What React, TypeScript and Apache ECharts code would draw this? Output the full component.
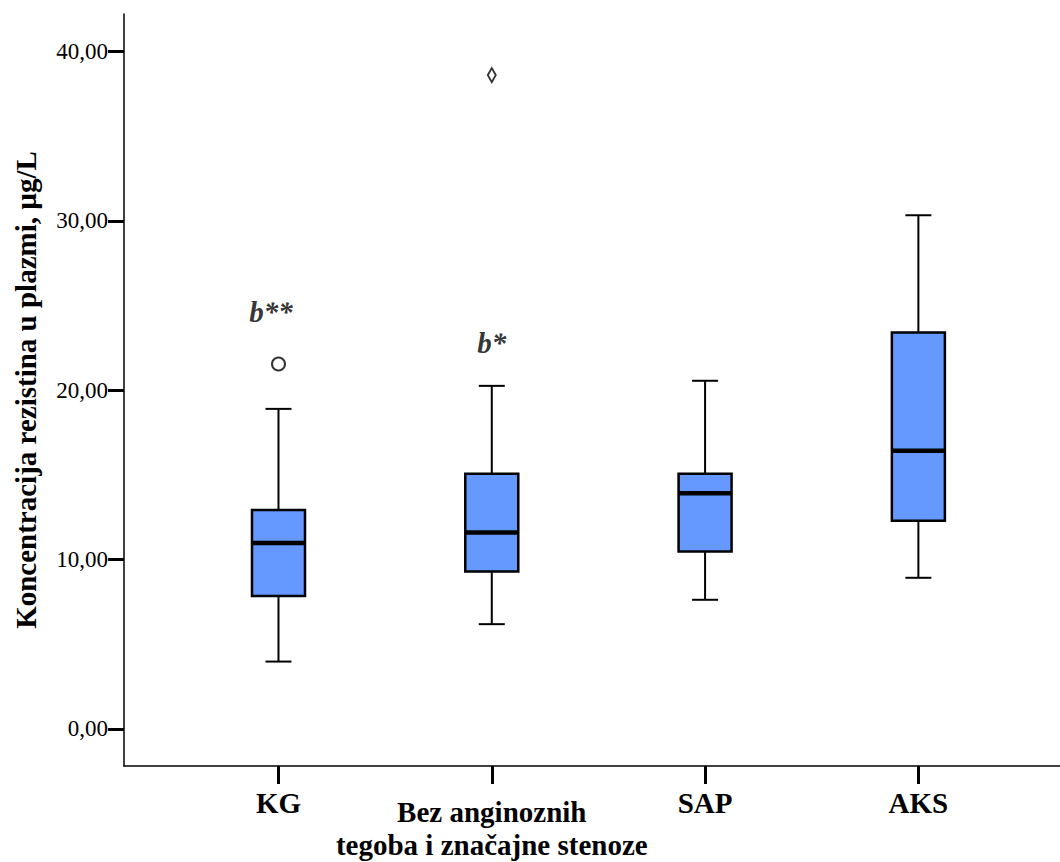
import React, { useEffect, useRef } from "react";
import * as echarts from "echarts";

const categories = ["KG", "Bez anginoznih\ntegoba i značajne stenoze", "SAP", "AKS"];
const categoryPositions = [1, 2, 3, 4];
// [min whisker, Q1, median, Q3, max whisker]
const boxMin = [3.97, 6.18, 7.62, 8.92];
const boxQ1 = [7.84, 9.29, 10.47, 12.29];
const boxMedian = [10.97, 11.6, 13.92, 16.42];
const boxQ3 = [12.92, 15.06, 15.06, 23.41];
const boxMax = [18.9, 20.26, 20.56, 30.34];
const outlierCircles: [number, number][] = [[1, 21.55]];
const extremeDiamonds: [number, number][] = [[2, 38.62]];
const annotationPos: [number, number][] = [[0.965, 24.6], [2.0, 22.8]];
const annotationText = ["b**", "b*"];
const yTicks = [0, 10, 20, 30, 40];
const yTitle = "Koncentracija rezistina u plazmi, µg/L";

const SERIF = "'Liberation Serif', 'Times New Roman', serif";
const BOX_FILL = "#6699ff";

export default function App() {
  const ref = useRef<HTMLDivElement>(null);
  useEffect(() => {
    if (!ref.current) return;
    const chart = echarts.init(ref.current, null, { renderer: "svg" });
    const boxData = categoryPositions.map((x, i) => [
      x,
      boxMin[i],
      boxQ1[i],
      boxMedian[i],
      boxQ3[i],
      boxMax[i],
    ]);
    const halfW = 26.5;
    const capHalf = 13;
    const option: any = {
      animation: false,
      backgroundColor: "#fff",
      grid: { left: 124, top: 14, right: 0, bottom: 96, containLabel: false },
      xAxis: {
        type: "value",
        min: 0.2757,
        max: 4.664,
        splitLine: { show: false },
        axisLine: { show: true, onZero: false, lineStyle: { color: "#000", width: 1.5 } },
        axisTick: {
          show: true,
          customValues: categoryPositions,
          length: 18,
          lineStyle: { color: "#000", width: 3 },
        },
        axisLabel: {
          show: true,
          customValues: categoryPositions,
          margin: 22,
          formatter: (v: number) => {
            const name = categories[Math.round(v) - 1] || "";
            if (name.indexOf("\n") >= 0) {
              const parts = name.split("\n");
              return "{p| }\n" + parts.map((s) => "{b|" + s + "}").join("\n");
            }
            return "{a|" + name + "}";
          },
          rich: {
            a: { fontFamily: SERIF, fontSize: 29, fontWeight: "bold", color: "#000", lineHeight: 29 },
            b: { fontFamily: SERIF, fontSize: 29, fontWeight: "bold", color: "#000", lineHeight: 33 },
            p: { fontSize: 4, lineHeight: 7 },
          },
        },
      },
      yAxis: {
        type: "value",
        min: -2.2,
        max: 42.23,
        splitLine: { show: false },
        name: yTitle,
        nameLocation: "middle",
        nameRotate: 90,
        nameGap: 84,
        nameTextStyle: { fontFamily: SERIF, fontSize: 29, fontWeight: "bold", color: "#000" },
        axisLine: { show: true, onZero: false, lineStyle: { color: "#000", width: 1.5 } },
        axisTick: {
          show: true,
          customValues: yTicks,
          length: 16,
          lineStyle: { color: "#000", width: 3 },
        },
        axisLabel: {
          show: true,
          customValues: yTicks,
          margin: 16,
          fontFamily: SERIF,
          fontSize: 23,
          color: "#000",
          formatter: (v: number) => v.toFixed(2).replace(".", ","),
        },
      },
      series: [
        {
          type: "custom",
          data: boxData,
          encode: { x: 0, y: [1, 2, 3, 4, 5] },
          renderItem: (params: any, api: any) => {
            const x = api.value(0);
            const pMin = api.coord([x, api.value(1)]);
            const pQ1 = api.coord([x, api.value(2)]);
            const pMed = api.coord([x, api.value(3)]);
            const pQ3 = api.coord([x, api.value(4)]);
            const pMax = api.coord([x, api.value(5)]);
            const cx = pMed[0];
            const wStyle = { stroke: "#000", lineWidth: 2 };
            return {
              type: "group",
              children: [
                { type: "line", shape: { x1: cx, y1: pQ3[1], x2: cx, y2: pMax[1] }, style: wStyle },
                { type: "line", shape: { x1: cx, y1: pQ1[1], x2: cx, y2: pMin[1] }, style: wStyle },
                { type: "line", shape: { x1: cx - capHalf, y1: pMax[1], x2: cx + capHalf, y2: pMax[1] }, style: wStyle },
                { type: "line", shape: { x1: cx - capHalf, y1: pMin[1], x2: cx + capHalf, y2: pMin[1] }, style: wStyle },
                {
                  type: "rect",
                  shape: { x: cx - halfW, y: pQ3[1], width: halfW * 2, height: pQ1[1] - pQ3[1] },
                  style: { fill: BOX_FILL, stroke: "#000", lineWidth: 2.5 },
                },
                {
                  type: "line",
                  shape: { x1: cx - halfW, y1: pMed[1], x2: cx + halfW, y2: pMed[1] },
                  style: { stroke: "#000", lineWidth: 4.5 },
                },
              ],
            };
          },
        },
        {
          type: "scatter",
          data: outlierCircles,
          symbol: "circle",
          symbolSize: 13,
          itemStyle: { color: "#fff", borderColor: "#000", borderWidth: 2 },
        },
        {
          type: "scatter",
          data: extremeDiamonds,
          symbol: "diamond",
          symbolSize: [8, 14],
          itemStyle: { color: "#fff", borderColor: "#000", borderWidth: 2 },
        },
        {
          type: "scatter",
          data: annotationPos.map((p, i) => ({ value: p, name: annotationText[i] })),
          symbolSize: 0,
          itemStyle: { color: "transparent" },
          label: {
            show: true,
            position: "inside",
            formatter: (p: any) => p.name,
            fontFamily: SERIF,
            fontSize: 29,
            fontWeight: "bold",
            fontStyle: "italic",
            color: "#000",
            textBorderWidth: 0,
          },
        },
      ],
    };
    chart.setOption(option);
    return () => chart.dispose();
  }, []);
  return (
    <div
      ref={ref}
      style={{ position: "absolute", left: 0, top: 0, width: 1060, height: 862, background: "#fff" }}
    />
  );
}
